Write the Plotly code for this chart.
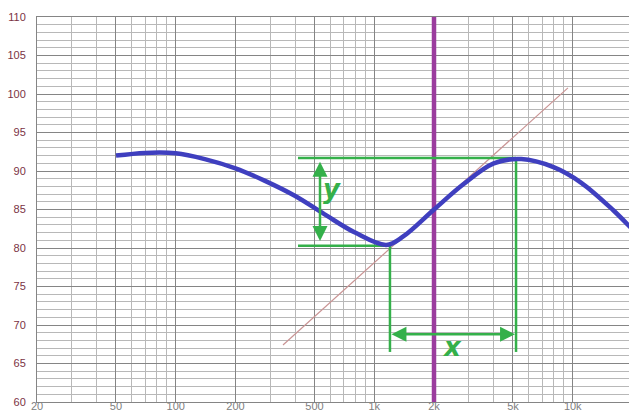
import math
import plotly.graph_objects as go

# Frequency response (Hz, dB)
freq_hz = [50, 70, 100, 140, 200, 280, 400, 560, 800, 1150, 1400, 2000,
           2800, 4000, 5500, 8000, 11000, 16000, 20000]
spl_db = [92.0, 92.35, 92.3, 91.55, 90.35, 88.75, 86.75, 84.4, 82.0, 80.4,
          81.5, 85.0, 88.25, 91.0, 91.55, 90.5, 88.5, 84.9, 82.4]

# Reference slope line through the crossover
slope_hz = [347, 9460]
slope_db = [67.4, 100.8]

# Crossover marker
crossover_hz = 2000

# Peak / dip construction lines
peak_db = 91.7
dip_db = 80.3
guide_left_hz = 413
dip_hz = 1200
peak_hz = 5180
guide_bottom_db = 66.5

# Dimension arrows
y_arrow_hz = 533
y_arrow_db = [91.2, 80.7]
x_arrow_db = 68.8
x_arrow_hz = [1200, 5120]
y_label = ("y", 613, 87.6)
x_label = ("x", 2470, 67.2)

# Axis ticks
x_tickvals = [20, 50, 100, 200, 500, 1000, 2000, 5000, 10000]
x_ticktext = ["20", "50", "100", "200", "500", "1k", "2k", "5k", "10k"]
x_minor = [30, 40, 60, 70, 80, 90, 300, 400, 600, 700, 800, 900,
           3000, 4000, 6000, 7000, 8000, 9000]
edge_label = ("20k", 20000)

GREEN = "#34b04a"
L = math.log10

fig = go.Figure()

# thin slope line
fig.add_trace(go.Scatter(x=slope_hz, y=slope_db, mode="lines",
                         line=dict(color="#c99494", width=1.2),
                         hoverinfo="skip", showlegend=False))

# crossover vertical
fig.add_trace(go.Scatter(x=[crossover_hz, crossover_hz], y=[60, 110], mode="lines",
                         line=dict(color="#9b3c9e", width=4.5),
                         hoverinfo="skip", showlegend=False))

# construction lines
guides = [
    ([guide_left_hz, peak_hz], [peak_db, peak_db]),
    ([guide_left_hz, dip_hz], [dip_db, dip_db]),
    ([dip_hz, dip_hz], [dip_db, guide_bottom_db]),
    ([peak_hz, peak_hz], [peak_db, guide_bottom_db]),
]
for gx, gy in guides:
    fig.add_trace(go.Scatter(x=gx, y=gy, mode="lines",
                             line=dict(color=GREEN, width=2.5),
                             hoverinfo="skip", showlegend=False))

# response curve
fig.add_trace(go.Scatter(x=freq_hz, y=spl_db, mode="lines",
                         line=dict(color="#3f3fbf", width=4.5, shape="spline",
                                   smoothing=1.0),
                         hoverinfo="skip", showlegend=False))

annotations = []
# double-headed dimension arrows
annotations.append(dict(x=L(y_arrow_hz), y=y_arrow_db[0], ax=L(y_arrow_hz), ay=y_arrow_db[1],
                        xref="x", yref="y", axref="x", ayref="y", text="",
                        showarrow=True, arrowhead=2, startarrowhead=2,
                        arrowside="end+start", arrowsize=1.2, arrowwidth=2.5,
                        arrowcolor=GREEN))
annotations.append(dict(x=L(x_arrow_hz[1]), y=x_arrow_db, ax=L(x_arrow_hz[0]), ay=x_arrow_db,
                        xref="x", yref="y", axref="x", ayref="y", text="",
                        showarrow=True, arrowhead=2, startarrowhead=2,
                        arrowside="end+start", arrowsize=1.2, arrowwidth=2.5,
                        arrowcolor=GREEN))
for txt, fx, fy in (y_label, x_label):
    annotations.append(dict(x=L(fx), y=fy, xref="x", yref="y", text=f"<b><i>{txt}</i></b>",
                            showarrow=False,
                            font=dict(family="DejaVu Sans", size=26, color=GREEN)))
# frequency label at the right edge
annotations.append(dict(x=L(edge_label[1]), y=0, xref="x", yref="paper",
                        text=edge_label[0], showarrow=False, yanchor="top", yshift=4,
                        font=dict(family="Liberation Sans", size=11, color="#808080")))

fig.update_layout(
    width=629, height=410,
    margin=dict(l=37, r=0, t=17, b=8),
    paper_bgcolor="white", plot_bgcolor="white",
    annotations=annotations,
    showlegend=False,
)

fig.update_xaxes(
    type="log",
    range=[L(20), L(20) + 592 / 198.5],
    tickvals=x_tickvals, ticktext=x_ticktext,
    tickfont=dict(family="Liberation Sans", size=11, color="#808080"),
    ticklabelstandoff=-6,
    showgrid=True, gridcolor="#858585", gridwidth=1,
    minor=dict(tickvals=x_minor, showgrid=True, gridcolor="#b8b8b8", gridwidth=1),
    showline=True, linecolor="#858585", linewidth=1, mirror=True,
    zeroline=False, automargin=False,
)
fig.update_yaxes(
    range=[60, 110], dtick=5, tick0=60,
    tickfont=dict(family="Liberation Sans", size=11, color="#7b3344"),
    ticklabelstandoff=8,
    showgrid=True, gridcolor="#858585", gridwidth=1,
    minor=dict(dtick=1, showgrid=True, gridcolor="#b8b8b8", gridwidth=1),
    showline=True, linecolor="#858585", linewidth=1, mirror=True,
    zeroline=False, automargin=False,
)

fig.write_html("out.html")
